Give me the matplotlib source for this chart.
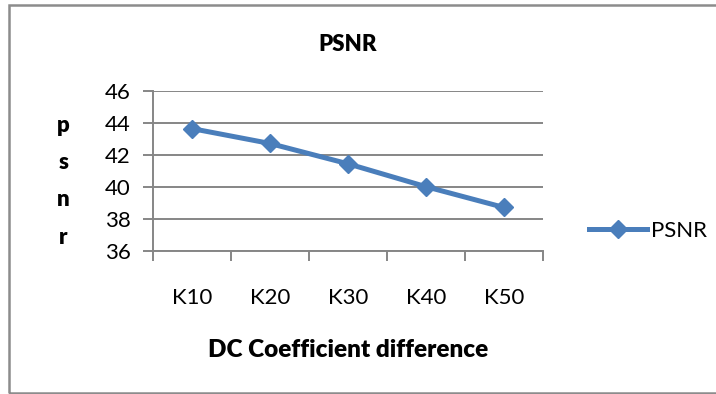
import matplotlib
matplotlib.use("Agg")
import matplotlib.pyplot as plt
from matplotlib.patches import Rectangle
from matplotlib.lines import Line2D

categories = ["K10", "K20", "K30", "K40", "K50"]
psnr = [43.65, 42.72, 41.45, 40.02, 38.72]
yticks = [36, 38, 40, 42, 44, 46]

plt.rcParams['font.family'] = ['Lato', 'DejaVu Sans']

W, H = 716, 394
fig = plt.figure(figsize=(W/100, H/100), dpi=100)
ax = fig.add_axes([153/W, 1-251/H, (543-153)/W, (251-91)/H])

blue = "#4A7EBB"
grid = "#868686"
x = list(range(len(categories)))
ax.plot(x, psnr, color=blue, lw=3.6, marker="D", ms=9.5, mec=blue, mfc=blue, solid_capstyle="round", zorder=3)

ax.set_xlim(-0.5, len(categories)-0.5)
ax.set_ylim(36, 46)
ax.set_yticks(yticks)
ax.set_yticklabels([str(v) for v in yticks], fontsize=16)
ax.yaxis.grid(True, color=grid, lw=1.4)
ax.set_axisbelow(True)
for s in ["top", "right"]:
    ax.spines[s].set_visible(False)
for s in ["left", "bottom"]:
    ax.spines[s].set_color(grid)
    ax.spines[s].set_linewidth(1.4)
ax.tick_params(axis="y", length=7, width=1.4, color=grid, pad=9)
ax.set_xticks(x)
ax.set_xticklabels(categories, fontsize=16)
ax.set_xticks([i-0.5 for i in range(len(categories)+1)], minor=True)
ax.tick_params(axis="x", which="major", length=0, pad=27)
ax.tick_params(axis="x", which="minor", length=7, width=1.4, color=grid)

ax.set_title("PSNR", fontsize=16, fontweight="heavy", pad=29)
ax.set_xlabel("DC Coefficient difference", fontsize=17.5, fontweight="heavy", labelpad=22)
ax.set_ylabel("p\ns\nn\nr", rotation=0, fontsize=16, fontweight="heavy", linespacing=1.95, va="center")
ax.yaxis.set_label_coords(-0.23, 0.435)

fig.legend(handles=[Line2D([0], [0], color=blue, lw=3.6, marker="D", ms=9.5, mec=blue, mfc=blue)],
           labels=["PSNR"], loc="center left", bbox_to_anchor=(580/W, 1-231/H), frameon=False,
           fontsize=16, handlelength=2.6, handletextpad=0.2, borderaxespad=0)

fig.patches.append(Rectangle((9/W, 1-393/H), (W+5-9)/W, (393-5)/H, transform=fig.transFigure,
                             fill=False, edgecolor="#8C8C8C", lw=1.8))

fig.savefig("out.png", dpi=100)
